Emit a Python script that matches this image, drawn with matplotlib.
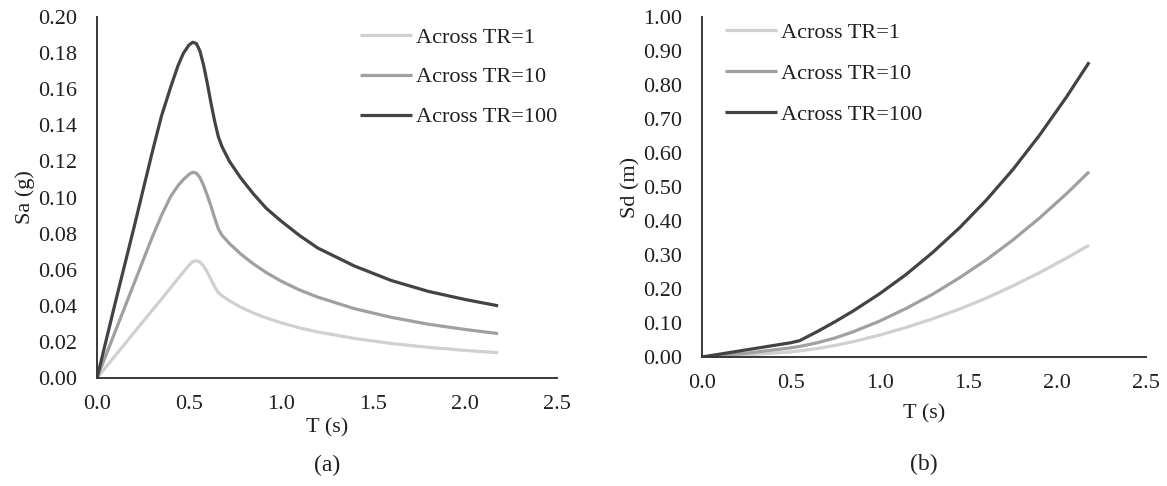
import matplotlib
matplotlib.use("Agg")
import matplotlib.pyplot as plt

plt.rcParams["font.family"] = ["Liberation Serif", "DejaVu Serif"]
plt.rcParams["font.size"] = 16

TEXT = "#231f20"
AXIS = "#3b3733"
COLORS = ["#d0d0d0", "#a0a0a0", "#404448"]
LABELS = ["Across TR=1", "Across TR=10", "Across TR=100"]

# spectral acceleration, Sa (g)
T_SA = [0, 0.1, 0.2, 0.3, 0.35, 0.4, 0.44, 0.47, 0.5, 0.52, 0.54, 0.56, 0.58,
        0.6, 0.62, 0.64, 0.66, 0.68, 0.72, 0.78, 0.85, 0.92, 1.0, 1.1, 1.2,
        1.4, 1.6, 1.8, 2.0, 2.18]
SA_TR1 = [0, 0.0125, 0.025, 0.0375, 0.0437, 0.050, 0.055, 0.0588, 0.0625,
          0.0645, 0.065, 0.0642, 0.062, 0.0585, 0.0545, 0.0505, 0.0472,
          0.0455, 0.0428, 0.0393, 0.036, 0.0333, 0.0306, 0.0278, 0.0255,
          0.0219, 0.0191, 0.017, 0.0153, 0.014]
SA_TR10 = [0, 0.026, 0.052, 0.078, 0.090, 0.1005, 0.1065, 0.110, 0.1128,
           0.114, 0.1135, 0.111, 0.1065, 0.101, 0.095, 0.0885, 0.0825, 0.079,
           0.0745, 0.0688, 0.0632, 0.0584, 0.0537, 0.0488, 0.0448, 0.0384,
           0.0336, 0.0298, 0.0269, 0.0246]
SA_TR100 = [0, 0.042, 0.083, 0.125, 0.145, 0.161, 0.173, 0.180, 0.1845,
            0.186, 0.1853, 0.181, 0.173, 0.163, 0.152, 0.142, 0.1335, 0.128,
            0.120, 0.111, 0.102, 0.094, 0.087, 0.079, 0.072, 0.062, 0.054,
            0.048, 0.0435, 0.040]

# spectral displacement, Sd (m)
T_SD = [0, 0.25, 0.5, 0.55, 0.65, 0.75, 0.85, 1.0, 1.15, 1.3, 1.45, 1.6,
        1.75, 1.9, 2.05, 2.18]
SD_TR1 = [0, 0.006, 0.015, 0.018, 0.025, 0.034, 0.045, 0.0645, 0.087,
          0.1125, 0.141, 0.173, 0.209, 0.248, 0.290, 0.329]
SD_TR10 = [0, 0.011, 0.027, 0.031, 0.042, 0.056, 0.074, 0.1055, 0.143,
           0.185, 0.233, 0.2855, 0.344, 0.4085, 0.479, 0.545]
SD_TR100 = [0, 0.021, 0.042, 0.048, 0.075, 0.104, 0.135, 0.186, 0.243,
            0.308, 0.380, 0.461, 0.551, 0.652, 0.763, 0.867]

fig = plt.figure(figsize=(11.67, 4.86), dpi=100)
W, H = 1167, 486


def box(x0, y0, x1, y1):
    return [x0 / W, 1 - y1 / H, (x1 - x0) / W, (y1 - y0) / H]


ax1 = fig.add_axes(box(97, 17, 557, 378))
ax2 = fig.add_axes(box(702, 17, 1146, 357))

for ax, t, series, ymax, ystep, ylabel in [
    (ax1, T_SA, [SA_TR1, SA_TR10, SA_TR100], 0.2, 0.02, "Sa (g)"),
    (ax2, T_SD, [SD_TR1, SD_TR10, SD_TR100], 1.0, 0.1, "Sd (m)"),
]:
    for ys, c, lab in zip(series, COLORS, LABELS):
        ax.plot(t, ys, color=c, lw=2.3, label=lab, solid_capstyle="butt",
                solid_joinstyle="round")
    ax.set_xlim(0, 2.5)
    ax.set_ylim(0, ymax)
    xt = [0, 0.5, 1.0, 1.5, 2.0, 2.5]
    ax.set_xticks(xt)
    ax.set_xticklabels([f"{v:.1f}" for v in xt])
    n = int(round(ymax / ystep))
    yt = [i * ystep for i in range(n + 1)]
    ax.set_yticks(yt)
    ax.set_yticklabels([f"{v:.2f}" for v in yt])
    ax.tick_params(length=0, colors=TEXT, labelsize=16)
    ax.tick_params(axis="y", pad=14.5)
    ax.tick_params(axis="x", pad=12)
    for s in ["top", "right"]:
        ax.spines[s].set_visible(False)
    for s in ["left", "bottom"]:
        ax.spines[s].set_color(AXIS)
        ax.spines[s].set_linewidth(1.4)
    ax.set_ylabel(ylabel, color=TEXT, fontsize=16, labelpad=2)

fig.text(327 / W, 1 - 428 / H, "T (s)", ha="center", va="center", color=TEXT, fontsize=16)
fig.text(924 / W, 1 - 414 / H, "T (s)", ha="center", va="center", color=TEXT, fontsize=16)
fig.text(327 / W, 1 - 465 / H, "(a)", ha="center", va="center", color=TEXT, fontsize=17)
fig.text(924 / W, 1 - 464 / H, "(b)", ha="center", va="center", color=TEXT, fontsize=17)

for ax, x0, y0, sp in [(ax1, 360, 27, 0.87), (ax2, 725, 22, 0.93)]:
    leg = ax.legend(loc="upper left", bbox_to_anchor=(x0 / W, 1 - y0 / H),
                    bbox_transform=fig.transFigure, frameon=False,
                    borderaxespad=0, borderpad=0, handlelength=2.34,
                    handletextpad=0.18, labelspacing=sp, fontsize=16)
    for txt in leg.get_texts():
        txt.set_color(TEXT)

fig.savefig("out.png", dpi=100)
